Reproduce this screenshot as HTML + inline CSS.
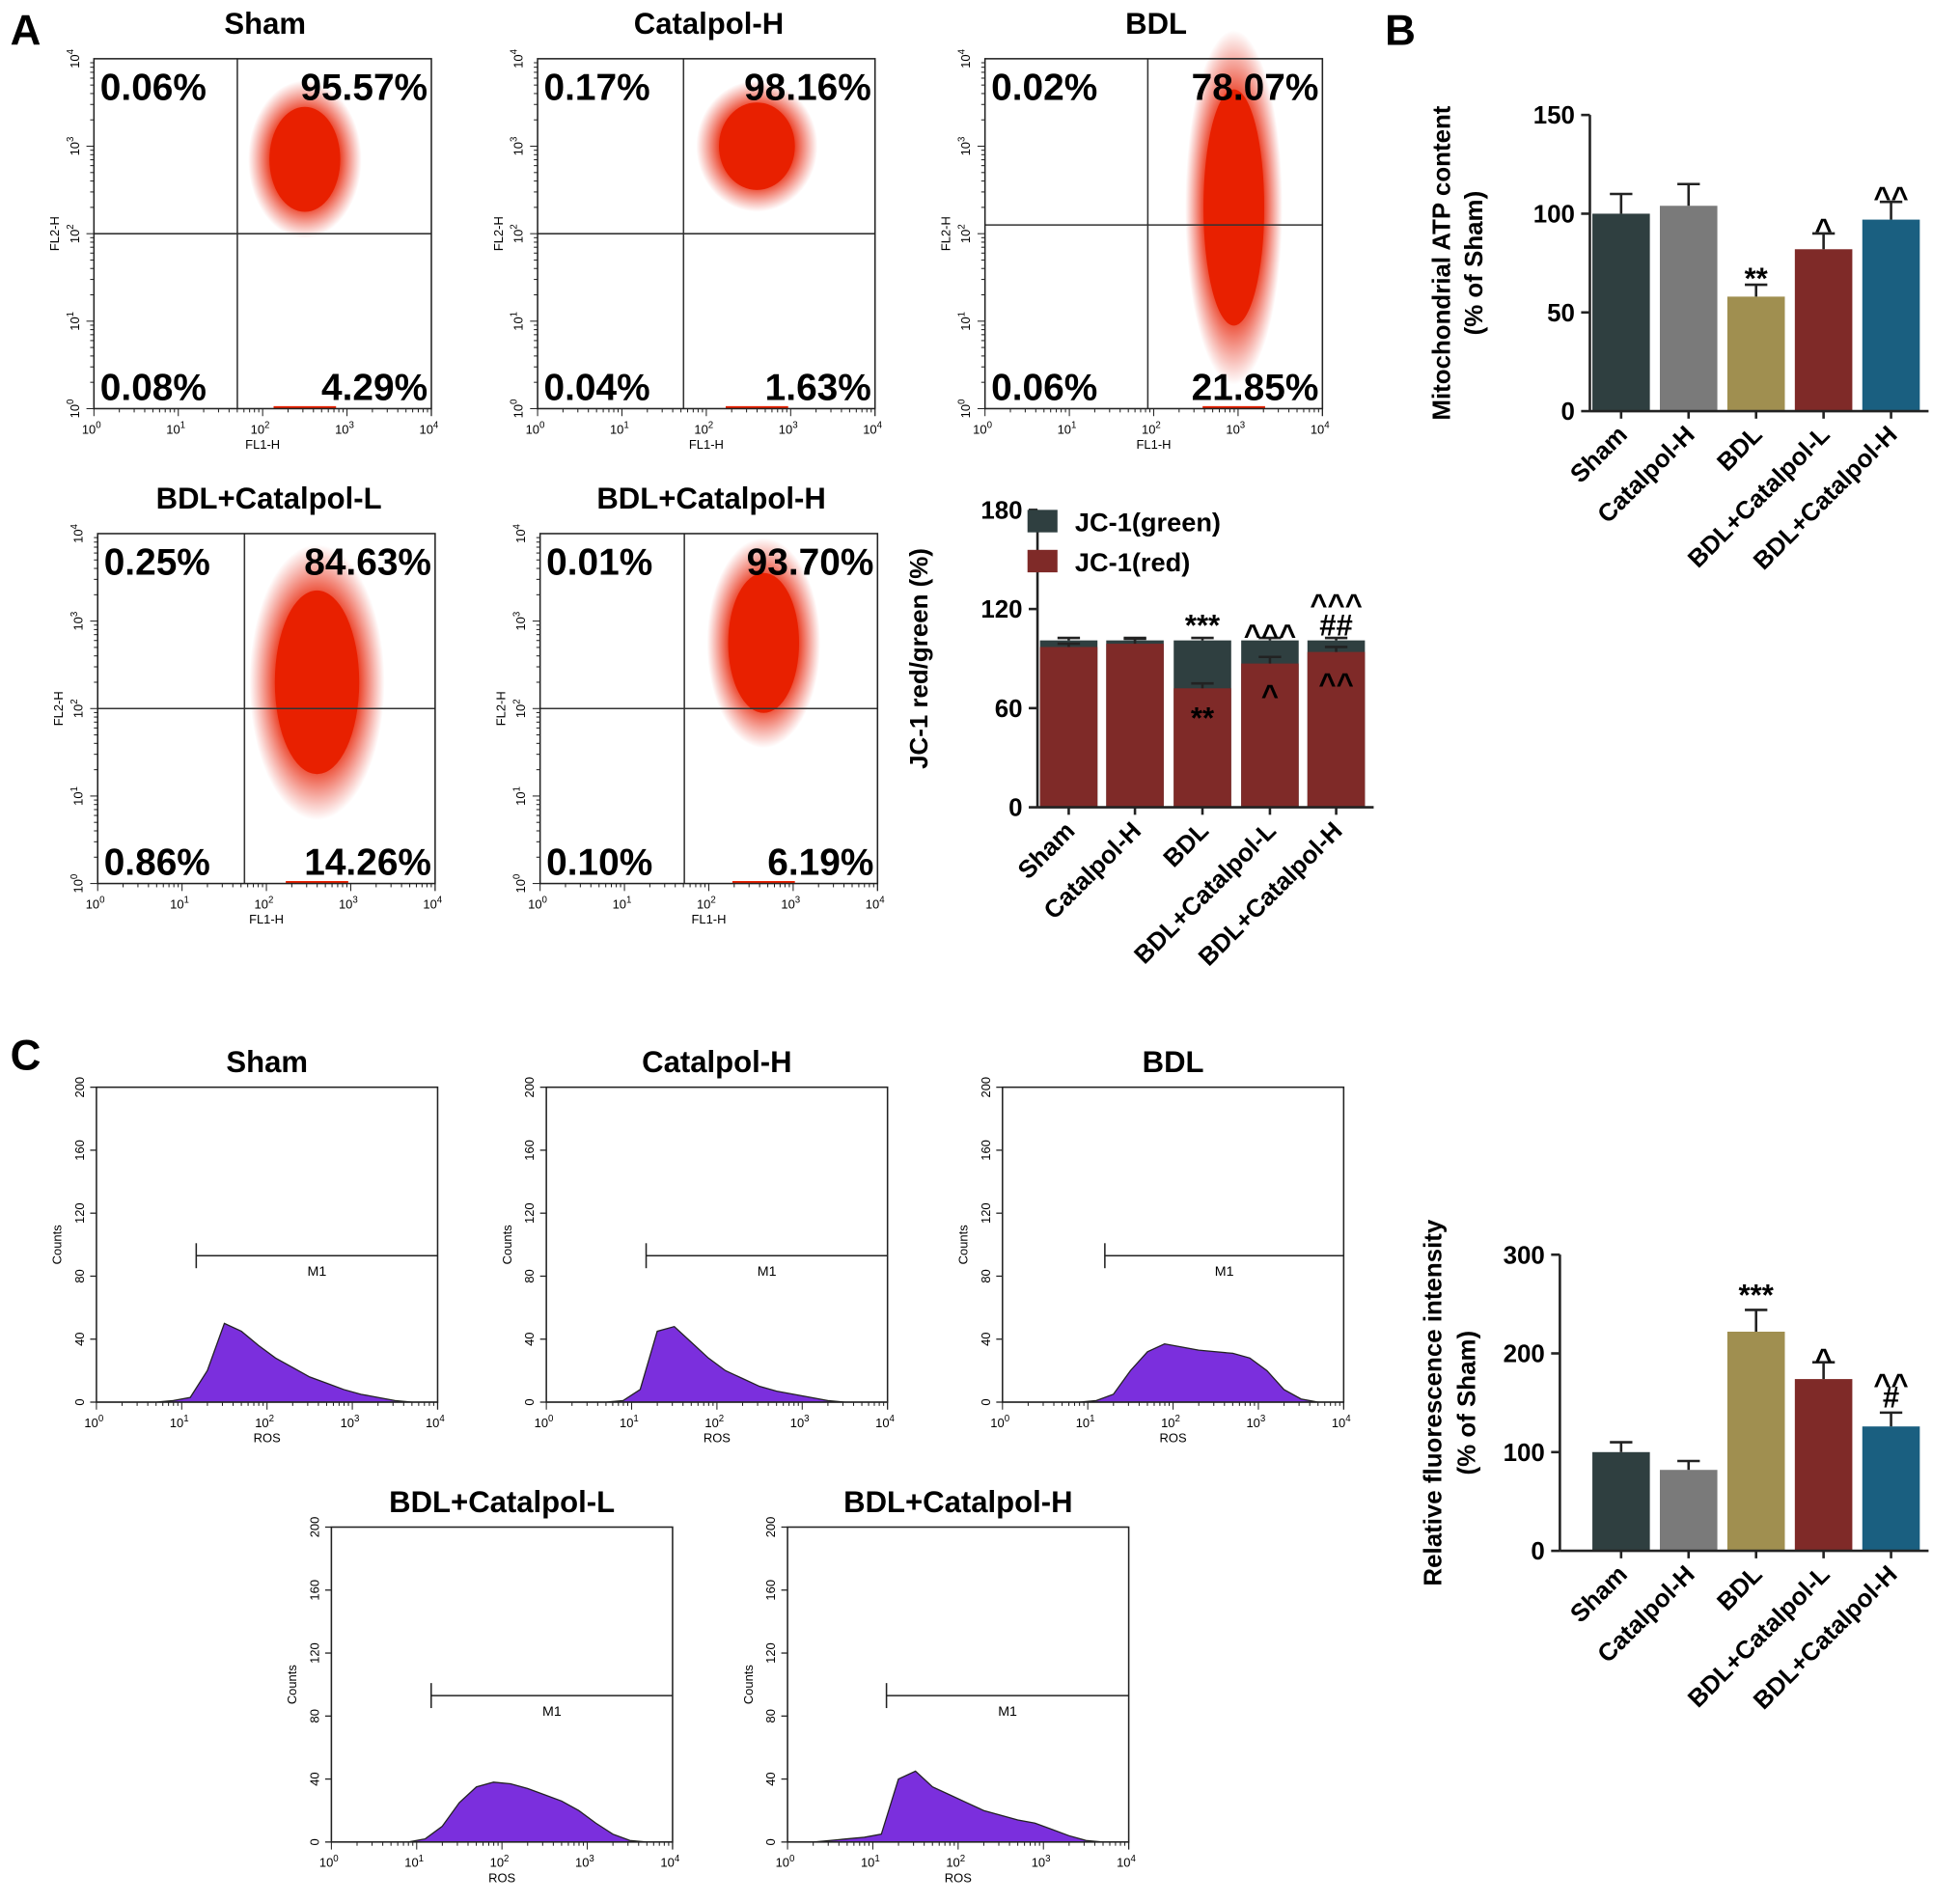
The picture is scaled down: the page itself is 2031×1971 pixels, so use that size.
<!DOCTYPE html>
<html><head><meta charset="utf-8"><style>
html,body{margin:0;padding:0;background:#fff}
svg{display:block}
text{font-family:"Liberation Sans",Arial,sans-serif}
</style></head><body>
<svg id="fig" width="2031" height="1971" viewBox="0 0 1568 1522" xmlns="http://www.w3.org/2000/svg">
<defs>
<radialGradient id="rg"><stop offset="0" stop-color="#e82000" stop-opacity="1"/><stop offset="0.6" stop-color="#e82000" stop-opacity="0.9"/><stop offset="1" stop-color="#e83020" stop-opacity="0"/></radialGradient>
</defs>
<text x="8" y="36" font-size="34" font-weight="bold">A</text>
<text x="1108" y="36" font-size="34" font-weight="bold">B</text>
<text x="8" y="856" font-size="34" font-weight="bold">C</text>
<g id="root"></g>
</svg>
<script>
// ---------- data ----------
const scatterTitles=["Sham","Catalpol-H","BDL","BDL+Catalpol-L","BDL+Catalpol-H"];
const scatterPct=[["0.06%","95.57%","0.08%","4.29%"],["0.17%","98.16%","0.04%","1.63%"],["0.02%","78.07%","0.06%","21.85%"],["0.25%","84.63%","0.86%","14.26%"],["0.01%","93.70%","0.10%","6.19%"]];
const gateX=[1.7,1.73,1.93,1.74,1.71];
const gateY=[2.0,2.0,2.1,2.0,2.0];
const clusterCx=[2.5,2.6,2.95,2.6,2.65];
const clusterCy=[2.85,3.0,2.3,2.3,2.75];
const clusterRx=[0.42,0.45,0.36,0.5,0.42];
const clusterRy=[0.6,0.5,1.35,1.05,0.8];
const groups=["Sham","Catalpol-H","BDL","BDL+Catalpol-L","BDL+Catalpol-H"];
const barColors=["#2f3f40","#7a7a7a","#a08f50","#7f2a28","#1a5f80"];
const atpVals=[100,104,58,82,97];
const atpErr=[10,11,6,8,9];
const atpSig=["","","**","^","^^"];
const jcRed=[97,99,72,87,94];
const jcTotal=[101,101,101,101,101];
const jcErr=[2,3,3,4,3];
const jcTopSig=["","","***","^^^","##"];
const jcTop2=["","","","","^^^"];
const jcRedSig=["","","**","^","^^"];
const rosVals=[100,82,222,174,126];
const rosErr=[10,9,22,17,14];
const rosSig=["","","***","^","#"];
const rosSig2=["","","","","^^"];
const histTitles=["Sham","Catalpol-H","BDL","BDL+Catalpol-L","BDL+Catalpol-H"];
const histCounts=[
[0,0,0,0,1,3,20,50,45,36,28,22,16,12,8,5,3,1,0,0],
[0,0,0,0,1,8,45,48,38,28,20,15,10,7,5,3,1,0,0,0],
[0,0,0,0,0,1,5,20,32,37,35,33,32,31,28,20,8,2,0,0],
[0,0,0,0,0,2,10,25,35,38,37,34,30,26,20,12,5,1,0,0],
[0,0,1,2,3,5,40,45,35,30,25,20,17,14,12,8,4,1,0,0]];
const histGate=[1.17,1.17,1.2,1.17,1.16];
const histGateY=[93,93,93,93,93];
// ---------- helpers ----------
const NS="http://www.w3.org/2000/svg";
const root=document.getElementById('root');
function el(tag,attrs,parent,txt){const e=document.createElementNS(NS,tag);for(const k in attrs)e.setAttribute(k,attrs[k]);if(txt!==undefined)e.textContent=txt;(parent||root).appendChild(e);return e;}
function pow10(g,x,y,exp,rot,size){const t=el('text',{x:x,y:y,'font-size':size,'text-anchor':'middle',transform:rot?`rotate(-90 ${x} ${y})`:''},g);t.textContent='10';el('tspan',{dy:-size*0.45,'font-size':size*0.75},t,String(exp));return t;}
function logAxes(g,x0,y0,w,h,xl,yl,yMax,yTicks){
  el('rect',{x:x0,y:y0,width:w,height:h,fill:'none',stroke:'#222','stroke-width':1.2},g);
  for(let d=0;d<4;d++)for(let m=1;m<10;m++){const lx=x0+(d+Math.log10(m))/4*w;el('line',{x1:lx,y1:y0+h,x2:lx,y2:y0+h+(m==1?6:3),stroke:'#222','stroke-width':0.8},g);}
  el('line',{x1:x0+w,y1:y0+h,x2:x0+w,y2:y0+h+6,stroke:'#222'},g);
  for(let d=0;d<=4;d++){pow10(g,x0+d/4*w-2,y0+h+20,d,false,10);}
  el('text',{x:x0+w/2,y:y0+h+32,'font-size':10,'text-anchor':'middle'},g,xl);
  if(yMax){
    yTicks.forEach(v=>{const yy=y0+h-v/yMax*h;el('line',{x1:x0-5,y1:yy,x2:x0,y2:yy,stroke:'#222'},g);el('text',{x:x0-10,y:yy,'font-size':10,'text-anchor':'middle',transform:`rotate(-90 ${x0-10} ${yy})`},g,String(v));});
  }else{
    for(let d=0;d<4;d++)for(let m=1;m<10;m++){const ly=y0+h-(d+Math.log10(m))/4*h;el('line',{x1:x0-(m==1?6:3),y1:ly,x2:x0,y2:ly,stroke:'#222','stroke-width':0.8},g);}
    for(let d=0;d<=4;d++){pow10(g,x0-12,y0+h-d/4*h,d,true,10);}
  }
  el('text',{x:x0-28,y:y0+h/2,'font-size':10,'text-anchor':'middle',transform:`rotate(-90 ${x0-28} ${y0+h/2})`},g,yl);
}
// ---------- scatter plots ----------
const scatPos=[[75,47],[430,47],[788,47],[78,427],[432,427]];
scatPos.forEach((p,i)=>{
  const g=el('g',{});
  
  
  const [x0,y0]=p,w=270,h=280;
  const sx=v=>x0+v/4*w, sy=v=>y0+h-v/4*h;
  const c=el('ellipse',{cx:sx(clusterCx[i]),cy:sy(clusterCy[i]),rx:clusterRx[i]/4*w*1.6,ry:clusterRy[i]/4*h*1.5,fill:'url(#rg)'},g);
  
  
  el('ellipse',{cx:sx(clusterCx[i]),cy:sy(clusterCy[i]),rx:clusterRx[i]/4*w,ry:clusterRy[i]/4*h,fill:'#e82000'},g);
  el('line',{x1:sx(clusterCx[i])-25,y1:y0+h-1,x2:sx(clusterCx[i])+25,y2:y0+h-1,stroke:'#e82000','stroke-width':2},g);
  el('line',{x1:sx(gateX[i]),y1:y0,x2:sx(gateX[i]),y2:y0+h,stroke:'#333','stroke-width':1.2},g);
  el('line',{x1:x0,y1:sy(gateY[i]),x2:x0+w,y2:sy(gateY[i]),stroke:'#333','stroke-width':1.2},g);
  logAxes(g,x0,y0,w,h,'FL1-H','FL2-H');
  const t=el('text',{x:x0+w/2+2,y:y0-20,'font-size':24,'font-weight':'bold','text-anchor':'middle'},g,scatterTitles[i]);
  
  const pc=scatterPct[i];
  el('text',{x:x0+5,y:y0+33,'font-size':30,'font-weight':'bold'},g,pc[0]);
  el('text',{x:x0+w-3,y:y0+33,'font-size':30,'font-weight':'bold','text-anchor':'end'},g,pc[1]);
  el('text',{x:x0+5,y:y0+h-7,'font-size':30,'font-weight':'bold'},g,pc[2]);
  el('text',{x:x0+w-3,y:y0+h-7,'font-size':30,'font-weight':'bold','text-anchor':'end'},g,pc[3]);
});
// ---------- bar chart helper ----------
function barAxes(g,ax,top,bot,max,ticks,xs,ylab,lxs){
  el('line',{x1:ax,y1:top,x2:ax,y2:bot,stroke:'#222','stroke-width':2},g);
  el('line',{x1:ax,y1:bot,x2:xs[4]+30,y2:bot,stroke:'#222','stroke-width':2},g);
  ticks.forEach(v=>{const y=bot-v/max*(bot-top);el('line',{x1:ax-7,y1:y,x2:ax,y2:y,stroke:'#222','stroke-width':2},g);el('text',{x:ax-12,y:y+7,'font-size':20,'font-weight':'bold','text-anchor':'end'},g,String(v));});
  xs.forEach((x,i)=>{el('line',{x1:x,y1:bot,x2:x,y2:bot+6,stroke:'#222','stroke-width':2},g);el('text',{x:x+6,y:bot+20,'font-size':20,'font-weight':'bold','text-anchor':'end',transform:`rotate(-45 ${x+6} ${bot+20})`},g,groups[i]);});
  ylab.forEach((l,k)=>{const lx=lxs[k],ly=(top+bot)/2;el('text',{x:lx,y:ly,'font-size':20,'font-weight':'bold','text-anchor':'middle',transform:`rotate(-90 ${lx} ${ly})`},g,l);});
}
function errBar(g,x,y,e,sc){el('line',{x1:x,y1:y,x2:x,y2:y-e*sc,stroke:'#222','stroke-width':2},g);el('line',{x1:x-9,y1:y-e*sc,x2:x+9,y2:y-e*sc,stroke:'#222','stroke-width':2},g);}
// ---------- B: ATP ----------
(function(){
  const g=el('g',{});
  const top=92,bot=329,max=150,sc=(bot-top)/max,xs=[1297,1351,1405,1459,1513];
  atpVals.forEach((v,i)=>{const r=el('rect',{x:xs[i]-23,y:bot-v*sc,width:46,height:v*sc,fill:barColors[i]},g);errBar(g,xs[i],bot-v*sc,atpErr[i],sc);
    if(atpSig[i])el('text',{x:xs[i],y:bot-(v+atpErr[i])*sc-5+(atpSig[i][0]=='^'?10:8),'font-size':24,'font-weight':'bold','text-anchor':'middle'},g,atpSig[i]);});
  barAxes(g,1272,top,bot,max,[0,50,100,150],xs,["Mitochondrial ATP content","(% of Sham)"],[1160,1186]);
})();
// ---------- JC-1 ----------
(function(){
  const g=el('g',{});
  const top=408,bot=646,max=180,sc=(bot-top)/max,xs=[855,908,962,1016,1069];
  xs.forEach((x,i)=>{
    const gr=el('rect',{x:x-23,y:bot-jcTotal[i]*sc,width:46,height:jcTotal[i]*sc,fill:'#2f3f40'},g);
    const rr=el('rect',{x:x-23,y:bot-jcRed[i]*sc,width:46,height:jcRed[i]*sc,fill:'#7f2a28'},g);
    errBar(g,x,bot-jcTotal[i]*sc,1.5,sc);errBar(g,x,bot-jcRed[i]*sc,jcErr[i],sc);
    if(jcTopSig[i])el('text',{x:x,y:bot-jcTotal[i]*sc-4+(jcTopSig[i][0]=='^'?8:0),'font-size':24,'font-weight':'bold','text-anchor':'middle'},g,jcTopSig[i]);
    if(jcTop2[i])el('text',{x:x,y:bot-jcTotal[i]*sc-20,'font-size':24,'font-weight':'bold','text-anchor':'middle'},g,jcTop2[i]);
    if(jcRedSig[i])el('text',{x:x,y:bot-jcRed[i]*sc+(jcRedSig[i][0]=='^'?34:32),'font-size':24,'font-weight':'bold','text-anchor':'middle'},g,jcRedSig[i]);
  });
  barAxes(g,830,top,bot,max,[0,60,120,180],xs,["JC-1 red/green (%)"],[742]);
  const l1=el('rect',{x:822,y:408,width:24,height:18,fill:'#2f3f40'},g);
  el('text',{x:860,y:425,'font-size':21,'font-weight':'bold'},g,'JC-1(green)');
  const l2=el('rect',{x:822,y:440,width:24,height:18,fill:'#7f2a28'},g);
  el('text',{x:860,y:457,'font-size':21,'font-weight':'bold'},g,'JC-1(red)');
})();
// ---------- ROS bar ----------
(function(){
  const g=el('g',{});
  const top=1004,bot=1241,max=300,sc=(bot-top)/max,xs=[1297,1351,1405,1459,1513];
  rosVals.forEach((v,i)=>{const r=el('rect',{x:xs[i]-23,y:bot-v*sc,width:46,height:v*sc,fill:barColors[i]},g);errBar(g,xs[i],bot-v*sc,rosErr[i],sc);
    if(rosSig[i])el('text',{x:xs[i],y:bot-(v+rosErr[i])*sc-4+(rosSig[i]=='^'?10:0),'font-size':24,'font-weight':'bold','text-anchor':'middle'},g,rosSig[i]);
    if(rosSig2[i])el('text',{x:xs[i],y:bot-(v+rosErr[i])*sc-14,'font-size':24,'font-weight':'bold','text-anchor':'middle'},g,rosSig2[i]);});
  barAxes(g,1248,top,bot,max,[0,100,200,300],xs,["Relative fluorescence intensity","(% of Sham)"],[1153,1180]);
})();
// ---------- histograms ----------
const histPos=[[77,870],[437,870],[802,870],[265,1222],[630,1222]];
histPos.forEach((p,i)=>{
  const g=el('g',{});
  
  
  const [x0,y0]=p,w=273,h=252;
  const sx=v=>x0+v/4*w, sy=v=>y0+h-v/200*h;
  const c=histCounts[i];let d=`M${x0},${y0+h}`;
  c.forEach((v,k)=>{d+=` L${sx(k*0.2+0.1)},${sy(v)}`;});
  d+=` L${x0+w},${y0+h} Z`;
  const pth=el('path',{d:d,fill:'#7b2fdd',stroke:'#222','stroke-width':1},g);
  
  logAxes(g,x0,y0,w,h,'ROS','Counts',200,[0,40,80,120,160,200]);
  const gy=sy(histGateY[i]),gx=sx(histGate[i]);
  el('line',{x1:gx,y1:gy,x2:x0+w,y2:gy,stroke:'#222','stroke-width':1.2},g);
  el('line',{x1:gx,y1:gy-10,x2:gx,y2:gy+10,stroke:'#222','stroke-width':1.2},g);
  el('text',{x:(gx+x0+w)/2,y:gy+16,'font-size':11,'text-anchor':'middle'},g,'M1');
  const t=el('text',{x:x0+w/2,y:y0-12,'font-size':24,'font-weight':'bold','text-anchor':'middle'},g,histTitles[i]);
  
});
</script>
</body></html>
